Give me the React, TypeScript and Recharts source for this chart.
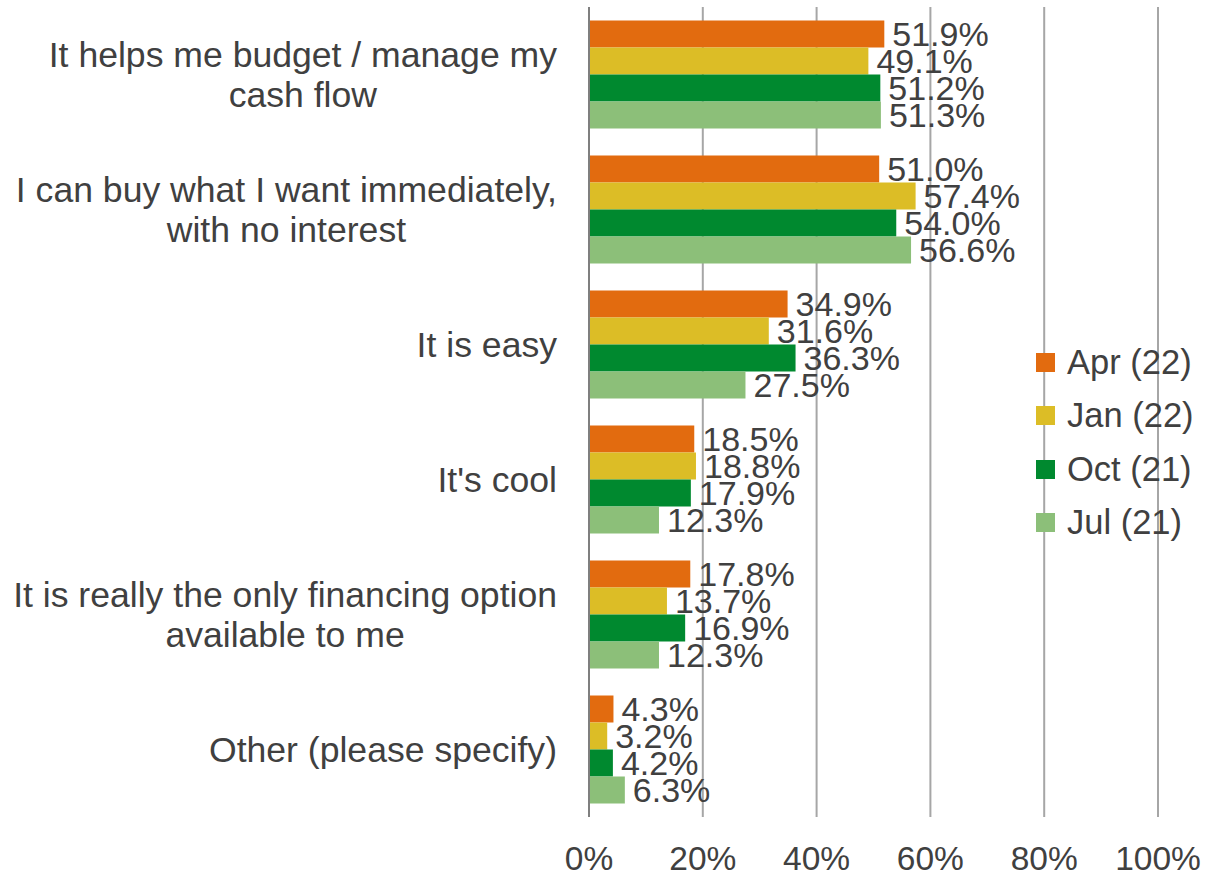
import { BarChart, Bar, XAxis, YAxis, CartesianGrid, Legend, LabelList } from "recharts";

// Reasons (categories), top to bottom
const categories = [
    "It helps me budget / manage my\ncash flow",
    "I can buy what I want immediately,\nwith no interest",
    "It is easy",
    "It's cool",
    "It is really the only financing option\navailable to me",
    "Other (please specify)",
];

// Percent values per survey wave
const apr22 = [51.9, 51.0, 34.9, 18.5, 17.8, 4.3];
const jan22 = [49.1, 57.4, 31.6, 18.8, 13.7, 3.2];
const oct21 = [51.2, 54.0, 36.3, 17.9, 16.9, 4.2];
const jul21 = [51.3, 56.6, 27.5, 12.3, 12.3, 6.3];

const xTicks = [0, 20, 40, 60, 80, 100];

const series = [
    { key: "apr", name: "Apr (22)", color: "#E26B0F" },
    { key: "jan", name: "Jan (22)", color: "#DCBD26" },
    { key: "oct", name: "Oct (21)", color: "#00892F" },
    { key: "jul", name: "Jul (21)", color: "#8CBF79" },
];

const data = categories.map((name, i) => ({
    name,
    apr: apr22[i],
    jan: jan22[i],
    oct: oct21[i],
    jul: jul21[i],
}));

const FONT = '"Liberation Sans", Arial, sans-serif';
const TEXT = "#404040";
const CAT_SIZE = 35.6;
const VAL_SIZE = 34;
const TICK_SIZE = 33.5;

let ctx: CanvasRenderingContext2D | null = null;
function textWidth(s: string) {
    if (!ctx) ctx = document.createElement("canvas").getContext("2d");
    if (!ctx) return s.length * CAT_SIZE * 0.5;
    ctx.font = `${CAT_SIZE}px ${FONT}`;
    return ctx.measureText(s).width;
}

// multi-line category label: block right-aligned, lines centred inside it
function CategoryTick(props: any) {
    const { x, y, payload } = props;
    const lines: string[] = String(payload.value).split("\n");
    const maxW = Math.max(...lines.map(textWidth));
    const cx = x - maxW / 2;
    return (
        <g>
            {lines.map((line, i) => (
                <text
                    key={i}
                    x={cx}
                    y={y + (i - (lines.length - 1) / 2) * 40}
                    textAnchor="middle"
                    dominantBaseline="central"
                    fill={TEXT}
                    fontSize={CAT_SIZE}
                    fontFamily={FONT}
                >
                    {line}
                </text>
            ))}
        </g>
    );
}

function LegendBox() {
    return (
        <div style={{ fontFamily: FONT, fontSize: 34.5, color: TEXT }}>
            {series.map((s) => (
                <div key={s.key} style={{ display: "flex", alignItems: "center", height: 53.3 }}>
                    <span style={{ width: 19, height: 19, background: s.color, display: "inline-block", marginRight: 12 }} />
                    <span>{s.name}</span>
                </div>
            ))}
        </div>
    );
}

export default function App() {
    return (
        <div style={{ position: "absolute", left: 0, top: 0, background: "#fff" }}>
            <BarChart
                width={1211}
                height={880}
                data={data}
                layout="vertical"
                margin={{ top: 7, right: 53, bottom: 13, left: 0 }}
                barCategoryGap="10%"
                barGap={0}
            >
                <CartesianGrid horizontal={false} stroke="#a6a6a6" strokeWidth={2} />
                <XAxis
                    type="number"
                    domain={[0, 100]}
                    ticks={xTicks}
                    tickFormatter={(v) => `${v}%`}
                    axisLine={false}
                    tickLine={false}
                    tickSize={0}
                    tickMargin={29}
                    height={50}
                    interval={0}
                    tick={{ fill: TEXT, fontSize: TICK_SIZE, fontFamily: FONT }}
                />
                <YAxis
                    type="category"
                    dataKey="name"
                    width={589}
                    axisLine={{ stroke: "#7f7f7f", strokeWidth: 2 }}
                    tickLine={false}
                    tickSize={0}
                    tickMargin={32}
                    interval={0}
                    tick={<CategoryTick />}
                />
                <Legend
                    layout="vertical"
                    align="center"
                    verticalAlign="middle"
                    content={<LegendBox />}
                    wrapperStyle={{ left: 1036, top: 336, width: 175, height: 215 }}
                />
                {series.map((s) => (
                    <Bar key={s.key} dataKey={s.key} name={s.name} fill={s.color} isAnimationActive={false}>
                        <LabelList
                            dataKey={s.key}
                            position="right"
                            offset={8}
                            formatter={(v: any) => `${Number(v).toFixed(1)}%`}
                            style={{ fill: TEXT, fontSize: VAL_SIZE, fontFamily: FONT }}
                        />
                    </Bar>
                ))}
            </BarChart>
        </div>
    );
}
